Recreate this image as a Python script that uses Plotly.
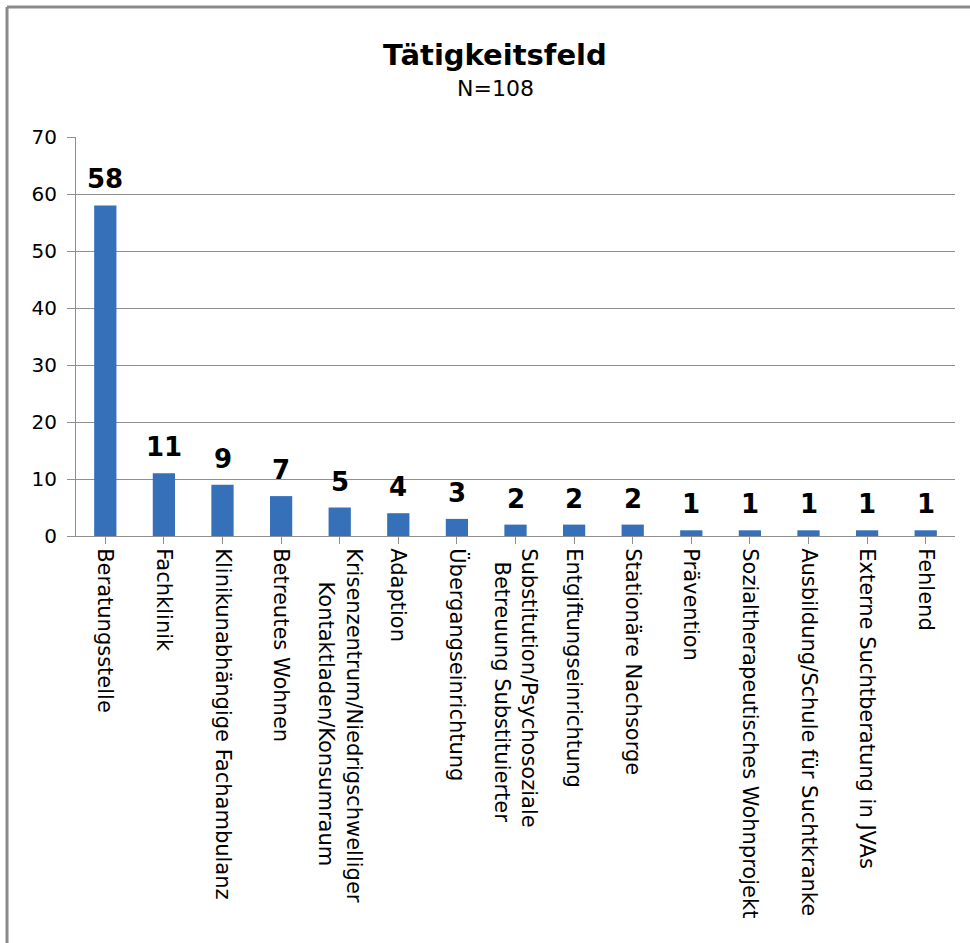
import plotly.graph_objects as go

NB = "\u00a0"
categories = [
    "Beratungsstelle",
    "Fachklinik",
    "Klinikunabhängige Fachambulanz",
    "Betreutes Wohnen",
    "Krisenzentrum/Niedrigschwelliger<br>" + NB * 5 + "Kontaktladen/Konsumraum",
    "Adaption",
    "Übergangseinrichtung",
    "Substitution/Psychosoziale<br>" + NB * 2 + "Betreuung Substituierter",
    "Entgiftungseinrichtung",
    "Stationäre Nachsorge",
    "Prävention",
    "Sozialtherapeutisches Wohnprojekt",
    "Ausbildung/Schule für Suchtkranke",
    "Externe Suchtberatung in JVAs",
    "Fehlend",
]
values = [58, 11, 9, 7, 5, 4, 3, 2, 2, 2, 1, 1, 1, 1, 1]
y_ticks = [0, 10, 20, 30, 40, 50, 60, 70]

FONT = "DejaVu Sans"

W, H = 970, 943
L, R, T, B = 76, 15, 137, 407
pw, ph = W - L - R, H - T - B


def px(xp):
    return (xp - L) / pw


def py(yp):
    return (H - B - yp) / ph


fig = go.Figure()
fig.add_trace(go.Bar(
    x=list(range(len(categories))),
    y=values,
    marker=dict(color="#3570B9", line=dict(width=0)),
    width=0.38,
    hoverinfo="skip",
))

for i, v in enumerate(values):
    fig.add_annotation(
        x=i, y=v, xref="x", yref="y",
        text=f"<b>{v}</b>", showarrow=False,
        yanchor="bottom", yshift=9,
        font=dict(family=FONT, size=26, color="black"),
    )

fig.add_annotation(
    x=px(495), y=py(55), xref="paper", yref="paper", text="<b>Tätigkeitsfeld</b>",
    showarrow=False, xanchor="center", yanchor="middle",
    font=dict(family=FONT, size=29, color="black"),
)
fig.add_annotation(
    x=px(495), y=py(88), xref="paper", yref="paper", text="N=108",
    showarrow=False, xanchor="center", yanchor="middle",
    font=dict(family=FONT, size=22, color="black"),
)

# Outer frame: only left and top edges are visible in the reference
fig.add_shape(
    type="line", xref="paper", yref="paper",
    x0=px(7), x1=px(7), y0=py(H + 5), y1=py(7),
    line=dict(color="#8a8a8a", width=3), layer="below",
)
fig.add_shape(
    type="line", xref="paper", yref="paper",
    x0=px(7), x1=px(W + 5), y0=py(7), y1=py(7),
    line=dict(color="#8a8a8a", width=3), layer="below",
)

fig.update_layout(
    width=W, height=H,
    margin=dict(l=L, r=R, t=T, b=B, pad=0),
    paper_bgcolor="white", plot_bgcolor="white",
    showlegend=False,
    font=dict(family=FONT, color="black"),
    bargap=0.62,
)
fig.update_xaxes(
    range=[-0.5, len(categories) - 0.5],
    tickmode="array",
    tickvals=list(range(len(categories))),
    ticktext=categories,
    tickangle=90,
    tickfont=dict(family=FONT, size=21, color="black"),
    showline=True, linecolor="#8f8f8f", linewidth=1,
    ticks="outside", ticklen=7, tickcolor="#8f8f8f",
    showgrid=False, zeroline=False,
)
fig.update_yaxes(
    range=[0, 70],
    tickmode="array", tickvals=y_ticks,
    tickfont=dict(family=FONT, size=20, color="black"),
    showline=True, linecolor="#8f8f8f", linewidth=1,
    ticks="outside", ticklen=8, tickcolor="#8f8f8f",
    showgrid=True, gridcolor="#8f8f8f", gridwidth=1,
    zeroline=False, ticklabelstandoff=6,
)

fig.write_html("out.html")
